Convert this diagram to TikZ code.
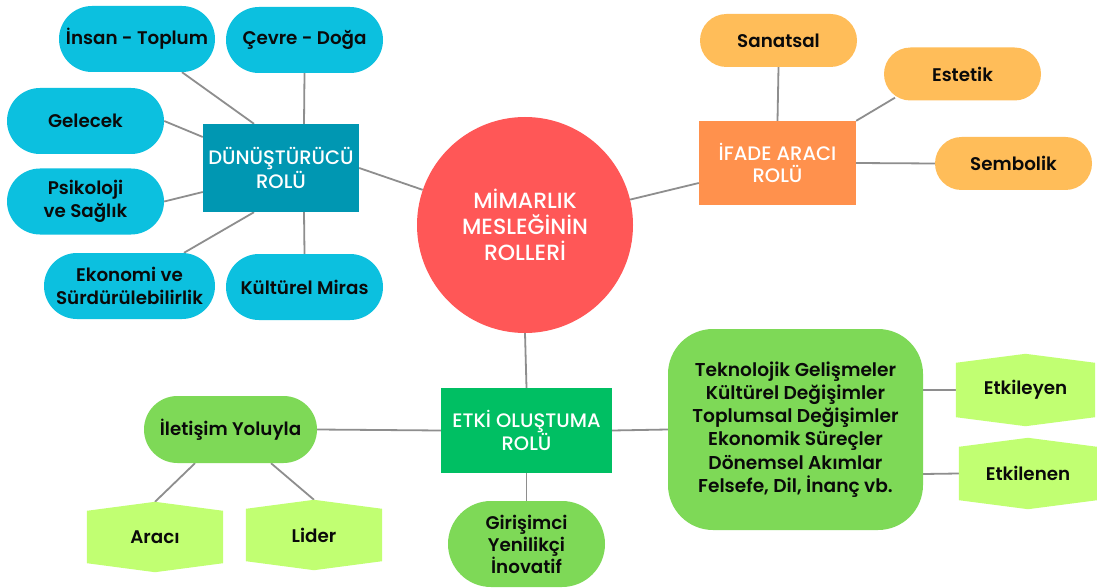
\documentclass[tikz,border=0pt]{standalone}
\usepackage{fontspec}
\setmainfont{Poppins}
\newfontfamily\semifont{Poppins SemiBold}
\newfontfamily\medfont{Poppins Medium}
\usetikzlibrary{calc}

\definecolor{cyanP}{HTML}{0CC0DF}
\definecolor{tealB}{HTML}{0097B2}
\definecolor{redC}{HTML}{FF5757}
\definecolor{orangeB}{HTML}{FF914D}
\definecolor{yellowP}{HTML}{FFBD59}
\definecolor{greenB}{HTML}{00BF63}
\definecolor{greenP}{HTML}{7ED957}
\definecolor{limeH}{HTML}{C1FF72}
\definecolor{linkC}{HTML}{8E8E8E}
\definecolor{ink}{HTML}{0A0A0A}

\pgfdeclarelayer{paper}
\pgfdeclarelayer{links}
\pgfdeclarelayer{hexfill}
\pgfsetlayers{paper,links,hexfill,main}

\tikzset{
  lbl/.style={inner sep=0pt, align=center, text=ink,
    font=\semifont\fontsize{18.3}{23}\selectfont},
  cyanpill/.style={lbl, fill=cyanP, rounded corners=33pt, minimum height=66pt},
  yellowpill/.style={lbl, fill=yellowP, rounded corners=26.5pt, minimum height=53pt},
  greenpill/.style={lbl, fill=greenP},
  hexnode/.style={lbl},
  rolebox/.style={inner sep=0pt, align=center, text=white,
    font=\medfont\fontsize{19.5}{22}\selectfont},
  link/.style={draw=linkC, line width=1.8pt},
}

% lime hexagon with pointed top and bottom behind a node
\newcommand\drawhex[1]{%
  \fill[limeH] ([yshift=-9pt]#1.north west) -- (#1.north)
    -- ([yshift=-9pt]#1.north east) -- ([yshift=9pt]#1.south east)
    -- (#1.south) -- ([yshift=9pt]#1.south west) -- cycle;}

\begin{document}
\begin{tikzpicture}[x=1pt,y=-1pt]
\useasboundingbox (0,0) rectangle (1097,588);
\begin{pgfonlayer}{paper}
  \fill[white] (0,0) rectangle (1097,588);
\end{pgfonlayer}

% centre
\node[circle, fill=redC, minimum size=216pt, inner sep=0pt, align=center,
  text=white, font=\medfont\fontsize{22}{26}\selectfont] (circ) at (525,225)
  {MİMARLIK\\MESLEĞİNİN\\ROLLERİ};

% transforming role
\node[rolebox, fill=tealB, minimum width=156pt, minimum height=88pt] (dn) at (281,168)
  {DÜNÜŞTÜRÜCÜ\\ROLÜ};
\node[cyanpill, minimum width=156pt] (insan) at (137,39) {İnsan - Toplum};
\node[cyanpill, minimum width=157pt] (cevre) at (304.5,40) {Çevre - Doğa};
\node[cyanpill, minimum width=157pt] (gelecek) at (85.5,121) {Gelecek};
\node[cyanpill, minimum width=157pt] (psiko) at (85.5,201.5) {Psikoloji\\ve Sağlık};
\node[cyanpill, minimum width=171pt] (ekonomi) at (129.5,286) {Ekonomi ve\\Sürdürülebilirlik};
\node[cyanpill, minimum width=157pt] (kultur) at (304.5,287) {Kültürel Miras};

% expression role
\node[rolebox, fill=orangeB, minimum width=157pt, minimum height=84pt] (ifade) at (777.5,163)
  {İFADE ARACI\\ROLÜ};
\node[yellowpill, minimum width=157pt] (sanatsal) at (778.5,40.5) {Sanatsal};
\node[yellowpill, minimum width=157pt] (estetik) at (962.5,74) {Estetik};
\node[yellowpill, minimum width=157pt] (sembolik) at (1013.5,163.5) {Sembolik};

% influence role
\node[rolebox, fill=greenB, minimum width=171pt, minimum height=85pt] (etki) at (526.5,430.5)
  {ETKİ OLUŞTUMA\\ROLÜ};
\node[greenpill, rounded corners=43pt, minimum width=157pt, minimum height=86pt,
  font=\semifont\fontsize{18.3}{22}\selectfont] (girisim)
  at (526.5,544) {Girişimci\\Yenilikçi\\İnovatif};
\node[greenpill, rounded corners=33.5pt, minimum width=173pt, minimum height=67pt] (iletisim)
  at (230.5,429.5) {İletişim Yoluyla};
\node[hexnode, minimum width=136pt, minimum height=70pt] (araci) at (155,537) {Aracı};
\node[hexnode, minimum width=136pt, minimum height=70pt] (lider) at (314,535) {Lider};
\node[greenpill, rounded corners=45pt, minimum width=255pt, minimum height=201pt,
  font=\semifont\fontsize{18.6}{23.2}\selectfont] (etken)
  at (795.5,429.5)
  {Teknolojik Gelişmeler\\Kültürel Değişimler\\Toplumsal Değişimler\\Ekonomik Süreçler\\Dönemsel Akımlar\\Felsefe, Dil, İnanç vb.};
\node[hexnode, minimum width=139pt, minimum height=72pt] (etkileyen) at (1025.5,390) {Etkileyen};
\node[hexnode, minimum width=138pt, minimum height=71pt] (etkilenen) at (1028,473.5) {Etkilenen};

\begin{pgfonlayer}{hexfill}
  \drawhex{araci}
  \drawhex{lider}
  \drawhex{etkileyen}
  \drawhex{etkilenen}
\end{pgfonlayer}

\begin{pgfonlayer}{links}
  \draw[link] ([xshift=45pt]insan.south) -- ([xshift=-27pt]dn.north);
  \draw[link] (cevre.south) -- ([xshift=23pt]dn.north);
  \draw[link] (gelecek.east) -- ([yshift=31pt]dn.west);
  \draw[link] (psiko.east) -- ([yshift=-24pt]dn.west);
  \draw[link] ([xshift=54.5pt]ekonomi.north) -- ([xshift=-27pt]dn.south);
  \draw[link] (kultur.north) -- ([xshift=23pt]dn.south);
  \draw[link] (dn.east) -- (circ);

  \draw[link] ([yshift=-20pt]ifade.west) -- (circ);
  \draw[link] (sanatsal.south) -- (ifade.north);
  \draw[link] ([xshift=-67.5pt,yshift=3pt]estetik.south) -- (ifade.north east);
  \draw[link] (ifade.east) -- (sembolik.west);

  \draw[link] (circ.south) -- (etki.north);
  \draw[link] (etki.south) -- (girisim.north);
  \draw[link] (etki.west) -- (iletisim.east);
  \draw[link] (etki.east) -- (etken.west);
  \draw[link] ([xshift=-35.5pt]iletisim.south) -- (araci.north);
  \draw[link] ([xshift=40.5pt]iletisim.south) -- (lider.north);
  \draw[link] ([yshift=39.5pt]etken.east) -- (etkileyen.west);
  \draw[link] ([yshift=-44.5pt]etken.east) -- (etkilenen.west);
\end{pgfonlayer}
\end{tikzpicture}
\end{document}
